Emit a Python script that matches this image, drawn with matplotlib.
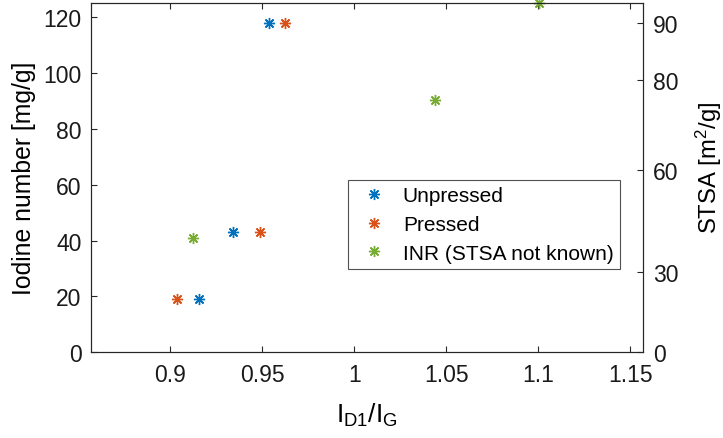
import matplotlib
matplotlib.use('Agg')
import matplotlib.pyplot as plt

plt.rcParams['font.family'] = ['Liberation Sans', 'DejaVu Sans']
plt.rcParams['mathtext.fontset'] = 'custom'
plt.rcParams['mathtext.rm'] = 'Liberation Sans'
plt.rcParams['mathtext.it'] = 'Liberation Sans'

# D1/G intensity ratio against iodine number
unpressed_ratio = [0.9154, 0.9339, 0.9535]
unpressed_iodine = [19, 43, 118]
pressed_ratio = [0.9034, 0.9485, 0.9621]
pressed_iodine = [19, 43, 118]
inr_ratio = [0.9121, 1.0438, 1.1004]
inr_iodine = [41, 90.4, 125]

x_ticks = [0.9, 0.95, 1.0, 1.05, 1.1, 1.15]
x_tick_labels = ['0.9', '0.95', '1', '1.05', '1.1', '1.15']
iodine_ticks = [0, 20, 40, 60, 80, 100, 120]
# STSA scale shown on the right, placed at the matching iodine number
stsa_tick_labels = ['0', '30', '60', '80', '90']
stsa_tick_iodine = [0, 28.7, 65.1, 97.4, 117.7]

BLUE = '#0072BD'
ORANGE = '#D95319'
GREEN = '#77AC30'
AXCOL = '#262626'
star = (8, 2, 0)

fig = plt.figure(figsize=(7.23, 4.39), dpi=100)
ax = fig.add_axes([0.1263, 0.1952, 0.763, 0.7957])

kw = dict(linestyle='none', marker=star, markersize=8, markeredgewidth=1.0, clip_on=False)
ax.plot(unpressed_ratio, unpressed_iodine, color=BLUE, label='Unpressed', **kw)
ax.plot(pressed_ratio, pressed_iodine, color=ORANGE, label='Pressed', **kw)
ax.plot(inr_ratio, inr_iodine, color=GREEN, label='INR (STSA not known)', **kw)

ax.set_xlim(0.857, 1.157)
ax.set_ylim(0, 125)
ax.set_xticks(x_ticks, x_tick_labels)
ax.set_yticks(iodine_ticks)
ax.tick_params(axis='both', direction='in', length=4, width=0.8, color=AXCOL,
               labelsize=16.5, labelcolor='#1a1a1a')
ax.tick_params(axis='x', top=True, pad=8)
ax.tick_params(axis='y', right=False, pad=7)
for s in ax.spines.values():
    s.set_color(AXCOL)
    s.set_linewidth(0.8)

ax.set_xlabel(r'$\mathregular{I_{D1}/I_G}$', fontsize=19, labelpad=10)
ax.set_ylabel('Iodine number [mg/g]', fontsize=17.8, labelpad=5)

ax2 = ax.twinx()
ax2.set_ylim(ax.get_ylim())
ax2.set_yticks(stsa_tick_iodine, stsa_tick_labels)
ax2.tick_params(axis='y', direction='in', length=4, width=0.8, color=AXCOL,
                labelsize=16.5, labelcolor='#1a1a1a', pad=7)
for s in ax2.spines.values():
    s.set_color(AXCOL)
    s.set_linewidth(0.8)
ax2.set_ylabel(r'STSA [m$^\mathregular{2}$/g]', fontsize=17.2)
ax2.yaxis.set_label_coords(1.093, 0.53)

leg = ax.legend(loc='upper right', bbox_to_anchor=(0.958, 0.493), fontsize=15,
                frameon=True, fancybox=False, edgecolor=AXCOL, borderpad=0.3,
                handlelength=1.9, handletextpad=0.44, borderaxespad=0,
                labelspacing=0.46)
leg.get_frame().set_linewidth(0.8)

fig.savefig('out.png', dpi=100)
